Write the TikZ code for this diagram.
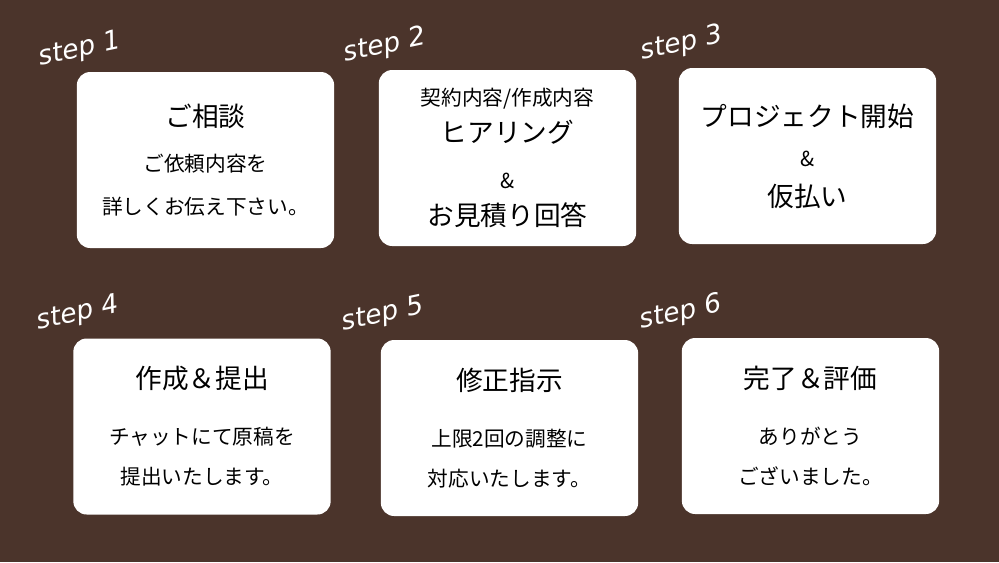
\documentclass[tikz,border=0pt]{standalone}
\usepackage{fontspec}
\newfontfamily\jp{Noto Sans CJK JP}
\setmainfont{DejaVu Sans}
\usetikzlibrary{positioning}
\definecolor{bgbrown}{HTML}{4B342B}
\newcommand{\cardtitle}{\fontsize{20}{30}\selectfont}
\newcommand{\cardbody}{\fontsize{15.5}{30}\selectfont}
\begin{document}
\begin{tikzpicture}[x=0.75pt,y=-0.75pt,
  card/.style={fill=white,rounded corners=10pt,minimum width=193pt,minimum height=132pt,
     align=center,font=\jp\fontsize{15.5}{30}\selectfont,inner sep=0pt},
  steplabel/.style={text=white,font=\fontsize{20}{20}\selectfont\itshape,rotate=12,anchor=center}]
\fill[bgbrown] (0,0) rectangle (999,562);
% first row
\node[card] (c1) at (205.5,160) {{\cardtitle ご相談}\\[4pt]{\cardbody ご依頼内容を}\\[2pt]{\cardbody 詳しくお伝え下さい。}};
\node[card] (c2) at (507.5,158) {{\cardbody 契約内容/作成内容}\\[-2pt]{\cardtitle ヒアリング}\\[4pt]{\cardbody \&}\\[-2pt]{\cardtitle お見積り回答}};
\node[card] (c3) at (807.5,156) {{\cardtitle プロジェクト開始}\\{\cardbody \&}\\{\cardtitle 仮払い}};
% second row
\node[card] (c4) at (202,426.5) {{\cardtitle 作成＆提出}\\[12pt]{\cardbody チャットにて原稿を}\\{\cardbody 提出いたします。}};
\node[card] (c5) at (509.5,428) {{\cardtitle 修正指示}\\[12pt]{\cardbody 上限2回の調整に}\\{\cardbody 対応いたします。}};
\node[card] (c6) at (810.5,426) {{\cardtitle 完了＆評価}\\[12pt]{\cardbody ありがとう}\\{\cardbody ございました。}};
% step labels
\node[steplabel] (s1) at (80,50) {step 1};
\node[steplabel] (s2) at (385,46) {step 2};
\node[steplabel] (s3) at (682,44) {step 3};
\node[steplabel] (s4) at (78,314) {step 4};
\node[steplabel] (s5) at (383,315) {step 5};
\node[steplabel] (s6) at (681,313) {step 6};
\end{tikzpicture}
\end{document}
